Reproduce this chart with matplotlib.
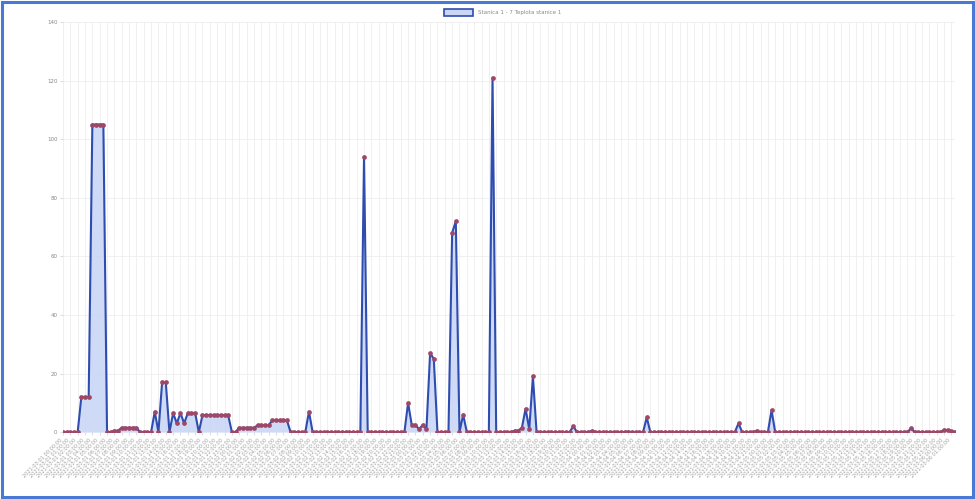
import numpy as np
import pandas as pd
import matplotlib
matplotlib.use('Agg')
import matplotlib.pyplot as plt
from matplotlib.patches import Rectangle

# hodnoty nameraneho signalu (odcitane z grafu)
values = ([0] * 5 + [12] * 3 + [105] * 4 + [0] * 2 + [0.5] * 2 + [1.5] * 5 + [0] * 4
          + [7, 0, 17, 17, 0, 6.5, 3, 6.5, 3, 6.5, 6.5, 6.5, 0] + [5.8] * 8 + [0] * 2
          + [1.5] * 5 + [2.3] * 4 + [4] * 5 + [0] * 5 + [7] + [0] * 14 + [94] + [0] * 11
          + [10, 2.4, 2.5, 1, 2.5, 1, 27, 25] + [0] * 4 + [68, 72, 0, 6] + [0] * 7
          + [121] + [0] * 5 + [0.5, 0.5, 1.5, 8, 1, 19] + [0] * 10 + [2] + [0] * 4
          + [0.4] + [0] * 9 + [0.2] + [0] * 4 + [5] + [0] * 24 + [3] + [0] * 4 + [0.5]
          + [0] * 3 + [7.5] + [0] * 37 + [1.3] + [0] * 8 + [0.8, 0.7, 0.3, 0.2])

times = pd.date_range('2021-03-01 00:00', periods=len(values), freq='30min')
labels = [t.strftime('%Y-%m-%d %H:%M:%S') for t in times]
y_ticks = [0, 20, 40, 60, 80, 100, 120, 140]
legend_label = 'Stanica 1 - 7 Teplota stanice 1'

x = np.arange(len(values))

fig = plt.figure(figsize=(9.75, 4.99), dpi=100)
ax = fig.add_axes([0.0646, 0.134, 0.915, 0.822])

ax.fill_between(x, values, 0, color='#c9d6f5', alpha=0.9, linewidth=0)
ax.plot(x, values, color='#2f4db0', linewidth=1.5, marker='o', markersize=3.4,
        markerfacecolor='#9e4766', markeredgewidth=0)

ax.set_xlim(0, len(values) - 1)
ax.set_ylim(0, 140)
ax.set_yticks(y_ticks)
ax.set_yticklabels([str(v) for v in y_ticks], fontsize=4, color='#888888')
ax.set_xticks(x[::2])
ax.set_xticklabels(labels[::2], rotation=45, ha='right', fontsize=3.6, color='#a0a0a0')
ax.tick_params(length=2, color='#dddddd', pad=2)
ax.grid(True, color='#eeeeee', linewidth=0.6)
ax.set_axisbelow(True)
for s in ax.spines.values():
    s.set_visible(False)

# legenda nahore
fig.patches.append(Rectangle((0.455, 0.968), 0.03, 0.014, transform=fig.transFigure,
                             facecolor='#c9d6f5', edgecolor='#2f4db0', linewidth=1.2))
fig.text(0.49, 0.975, legend_label, fontsize=4, color='#888888', va='center')

# modry ramecek okolo obrazku
fig.patches.append(Rectangle((0.002, 0.004), 0.996, 0.992, transform=fig.transFigure,
                             fill=False, edgecolor='#4a78d6', linewidth=2.2))

plt.savefig('out.png', dpi=100)
